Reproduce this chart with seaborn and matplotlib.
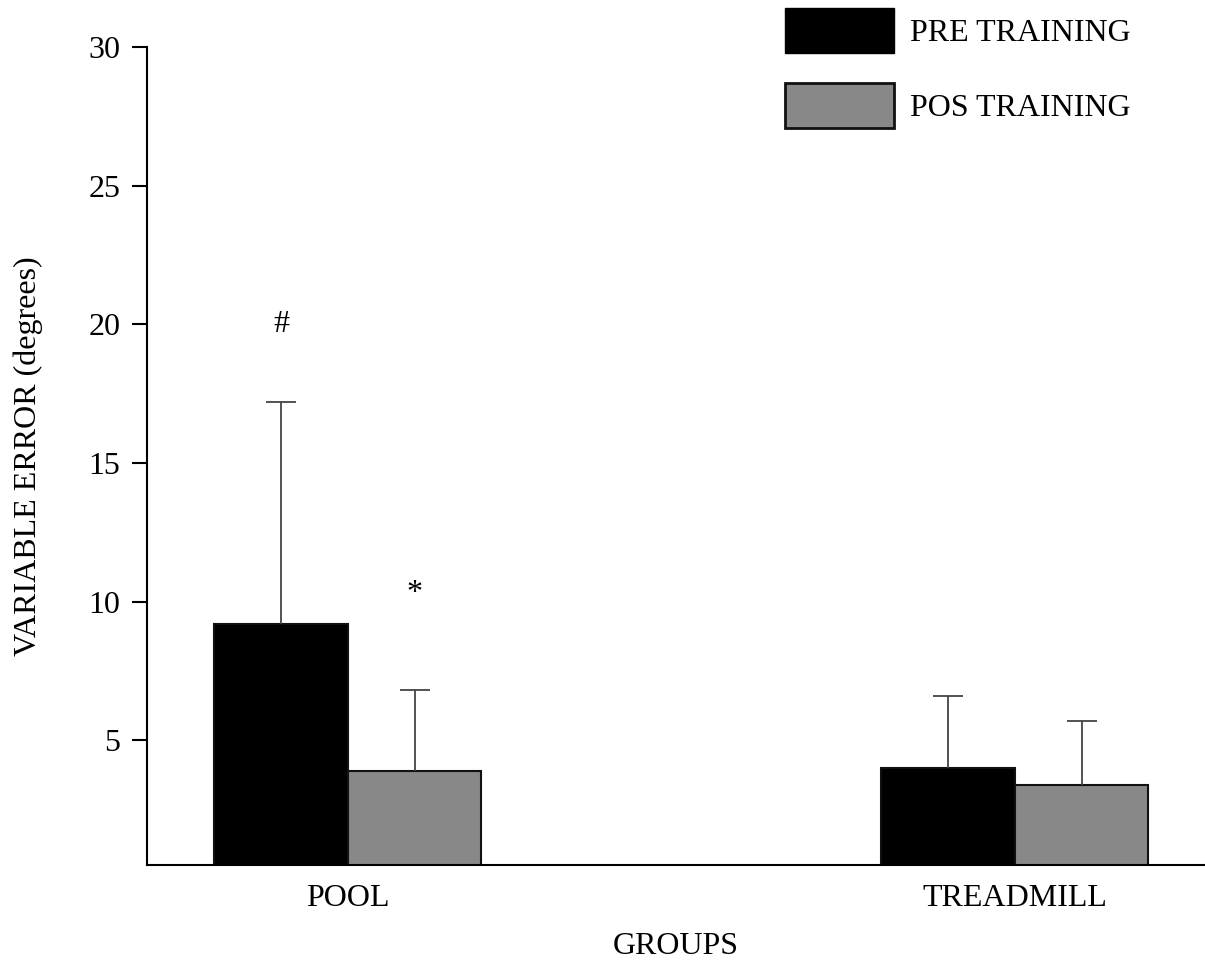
import pandas as pd
import matplotlib
matplotlib.use("Agg")
import matplotlib.pyplot as plt
import seaborn as sns

groups = ["POOL", "TREADMILL"]
conditions = ["PRE TRAINING", "POS TRAINING"]
pre_mean = [9.2, 4.0]
pre_sd = [8.0, 2.6]
pos_mean = [3.9, 3.4]
pos_sd = [2.9, 2.3]
# significance marks: (condition index, group index, text, y)
marks = [(0, 0, "#", 20.0), (1, 0, "*", 10.3)]

sns.set_theme(style="ticks")
plt.rcParams["font.family"] = ["Liberation Serif", "DejaVu Serif"]
plt.rcParams["text.color"] = "black"
plt.rcParams["axes.labelcolor"] = "black"

FS = 23

df = pd.DataFrame({
    "group": groups * 2,
    "cond": [conditions[0]] * 2 + [conditions[1]] * 2,
    "value": pre_mean + pos_mean,
})
sds = [pre_sd, pos_sd]

fig = plt.figure(figsize=(12.05, 9.64), dpi=100)
ax = fig.add_axes([147 / 1205, 1 - 865 / 964, 1 - 147 / 1205, (865 - 47) / 964])

sns.barplot(data=df, x="group", y="value", hue="cond", hue_order=conditions,
            palette=["#000000", "#888888"], width=0.4, gap=0, errorbar=None,
            saturation=1, edgecolor="#111111", linewidth=1.5, legend=False, ax=ax)

for container, sd in zip(ax.containers, sds):
    xs = [b.get_x() + b.get_width() / 2 for b in container]
    hs = [b.get_height() for b in container]
    eb = ax.errorbar(xs, hs, yerr=[[0] * len(sd), sd], fmt="none",
                     ecolor="#444444", elinewidth=1.3, capsize=11,
                     capthick=1.3, zorder=1)
    # keep only the upper cap
    eb[1][0].set_visible(False)

for ci, gi, txt, y in marks:
    b = ax.containers[ci][gi]
    ax.text(b.get_x() + b.get_width() / 2, y, txt, ha="center", va="center",
            fontsize=FS)

ax.set_ylim(0.5, 30)
ax.set_xlim(-0.301, 1.285)
ax.set_yticks([5, 10, 15, 20, 25, 30])
ax.tick_params(axis="y", length=11, width=1.5, pad=8, labelsize=FS, colors="black")
ax.tick_params(axis="x", length=0, pad=14, labelsize=FS, colors="black")
ax.set_xlabel("GROUPS", fontsize=FS, labelpad=13)
ax.set_ylabel("VARIABLE ERROR (degrees)", fontsize=FS, labelpad=33)
for s in ["top", "right"]:
    ax.spines[s].set_visible(False)
for s in ["left", "bottom"]:
    ax.spines[s].set_linewidth(1.5)
    ax.spines[s].set_color("black")

handles = [
    plt.Rectangle((0, 0), 1, 1, facecolor="#000000", edgecolor="#000000"),
    plt.Rectangle((0, 0), 1, 1, facecolor="#888888", edgecolor="#111111", linewidth=2),
]
fig.legend(handles, conditions, loc="upper left",
           bbox_to_anchor=(785 / 1205, 1 - 8 / 964), frameon=False,
           fontsize=FS, handlelength=3.4, handleheight=1.78,
           labelspacing=0.95, handletextpad=0.5, borderpad=0, borderaxespad=0)

fig.savefig("out.png", dpi=100)
